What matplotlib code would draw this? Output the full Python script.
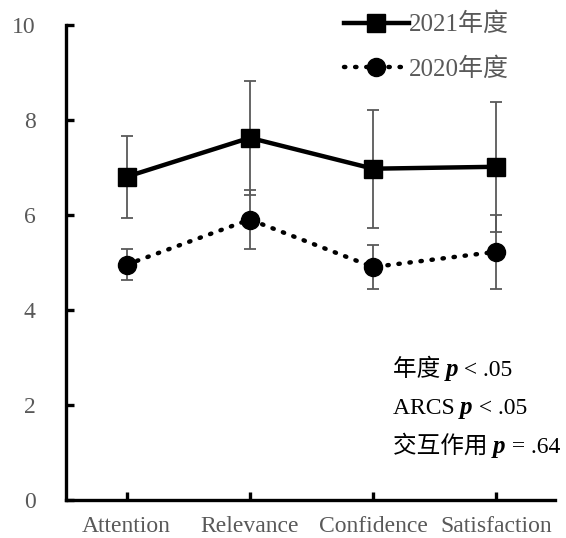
import matplotlib
matplotlib.use('Agg')
import matplotlib.pyplot as plt

plt.rcParams['font.family'] = ['Liberation Serif', 'Noto Sans CJK SC']

categories = ['Attention', 'Relevance', 'Confidence', 'Satisfaction']
mean_2021 = [6.80, 7.62, 6.97, 7.01]
err_2021 = [0.86, 1.20, 1.24, 1.37]
mean_2020 = [4.95, 5.90, 4.90, 5.22]
err_2020 = [0.32, 0.62, 0.47, 0.78]
yticks = [0, 2, 4, 6, 8, 10]
# each note: (text before p, text after p)
notes = [('年度 ', ' < .05'), ('ARCS ', ' < .05'), ('交互作用 ', ' = .64')]

GRAY = '#595959'

fig = plt.figure(figsize=(5.66, 5.38), dpi=100, facecolor='white')
ax = fig.add_axes([0.117, 0.071, 0.864, 0.883])

x = list(range(len(categories)))

ax.errorbar(x, mean_2021, yerr=err_2021, fmt='none', ecolor=GRAY,
            elinewidth=1.3, capsize=4, capthick=1.3, zorder=2)
ax.errorbar(x, mean_2020, yerr=err_2020, fmt='none', ecolor=GRAY,
            elinewidth=1.3, capsize=4, capthick=1.3, zorder=2)

ax.plot(x, mean_2021, color='black', linewidth=3.2, marker='s',
        markersize=13, label='2021年度', zorder=3)
ax.plot(x, mean_2020, color='black', linewidth=3.2, linestyle=(0, (0.3, 2.2)),
        dash_capstyle='round', marker='o', markersize=13,
        label='2020年度', zorder=3)

ax.set_xlim(-0.49, 3.48)
ax.set_ylim(0, 10)
ax.set_xticks(x)
ax.set_xticklabels(categories)
ax.set_yticks(yticks)

for side in ['top', 'right']:
    ax.spines[side].set_visible(False)
for side in ['left', 'bottom']:
    ax.spines[side].set_linewidth(2.4)
    ax.spines[side].set_color('black')

ax.tick_params(axis='both', direction='in', length=6, width=2.4,
               colors='black', labelcolor=GRAY, labelsize=17)
ax.tick_params(axis='x', pad=12)
ax.tick_params(axis='y', pad=22)

# significance notes, built from pieces so the italic p sits inline
ys = [2.74, 1.93, 1.12]
for (pre, post), yv in zip(notes, ys):
    t1 = ax.text(2.16, yv, pre, fontsize=17, color='black',
                 va='center', ha='left')
    t2 = ax.annotate('p', xy=(1, 0), xycoords=t1, va='bottom', ha='left',
                     fontsize=18, style='italic', fontweight='bold',
                     color='black')
    ax.annotate(post, xy=(1, 0), xycoords=t2, va='bottom', ha='left',
                fontsize=17, color='black')

leg = ax.legend(loc='upper left', bbox_to_anchor=(0.568, 1.018),
                bbox_transform=fig.transFigure, frameon=False,
                fontsize=18, handlelength=2.6, handletextpad=0.0,
                labelspacing=0.85)
for t in leg.get_texts():
    t.set_color(GRAY)

fig.savefig('out.png', dpi=100, facecolor='white')
